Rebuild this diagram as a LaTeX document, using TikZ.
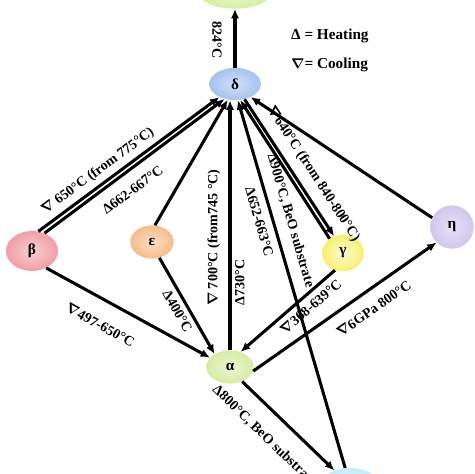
\documentclass[tikz,border=0pt]{standalone}
\usepackage{amsmath}
\usepackage{fontspec}
\setmainfont{Liberation Serif}
\usetikzlibrary{arrows.meta}
\usetikzlibrary{shapes.geometric}

\definecolor{topgreen}{RGB}{214,240,160}
\definecolor{deltablue}{RGB}{166,194,240}
\definecolor{betapink}{RGB}{240,158,164}
\definecolor{epsorange}{RGB}{246,188,138}
\definecolor{gammayellow}{RGB}{246,240,110}
\definecolor{etapurple}{RGB}{208,198,236}
\definecolor{alphagreen}{RGB}{214,236,164}
\definecolor{kappablue}{RGB}{196,236,250}

\newcommand{\cool}{$\boldsymbol{\nabla}$}
\newcommand{\heat}{Δ}

\begin{document}
\begin{tikzpicture}[x=0.03cm,y=-0.03cm,>={Latex[length=8pt,width=7pt]},
        phase/.style={ellipse,inner sep=0pt,inner color=#1!50!white,outer color=#1,
            font=\bfseries\fontsize{13}{14}\selectfont},
        conn/.style={line width=2.6pt,->},
        lbl/.style={font=\bfseries\fontsize{12}{13}\selectfont,sloped,inner sep=1pt}]
        \useasboundingbox (0,0) rectangle (474,474);
        \clip (0,0) rectangle (474,474);

        % phases
        \node[phase=topgreen,minimum width=2.2cm,minimum height=1cm] (T) at (235,-8) {};
        \node[phase=deltablue,minimum width=1.55cm,minimum height=0.97cm] (D) at (235,84) {δ};
        \node[phase=betapink,minimum width=1.56cm,minimum height=1.2cm] (B) at (32,251) {β};
        \node[phase=epsorange,minimum width=1.3cm,minimum height=1cm] (E) at (152,242) {ε};
        \node[phase=gammayellow,inner color=gammayellow!30!white,minimum width=1.25cm,minimum height=1.1cm] (G) at (343,253) {γ};
        \node[phase=etapurple,minimum width=1.3cm,minimum height=1.3cm] (H) at (452,227) {η};
        \node[phase=alphagreen,minimum width=1.42cm,minimum height=1cm] (A) at (230,367) {α};
        \node[phase=kappablue,minimum width=1.8cm,minimum height=1.08cm] (K) at (350,486) {};

        % legend
        \node[anchor=west,font=\bfseries\fontsize{13}{15}\selectfont] (heat) at (287,36) {\heat{} = Heating};
        \node[anchor=west,font=\bfseries\fontsize{13}{15}\selectfont] (cool) at (287,65) {\cool{}= Cooling};

        % transitions
        \draw[conn] (D.north) -- (D.north |- T.south);
        \node[rotate=-90,font=\bfseries\fontsize{12}{13}\selectfont] (t824) at (217,40) {824°C};

        \draw[conn] (B.72) -- node[lbl,pos=0.37,above=3pt] {\cool{} 650°C (from 775°C)} (D.220);
        \draw[conn] (B.55) -- node[lbl,pos=0.43,below=9pt] {\heat662-667°C} (D.235);
        \draw[conn] (E.80) -- (D.245);
        \draw[conn] (E.-65) -- node[lbl,pos=0.5,below=3pt] {\heat400°C} (A.140);
        \draw[conn] (B.-50) -- node[lbl,pos=0.4,below=14pt] {\cool497-650°C} (A.155);
        \draw[conn] (A.north) -- node[lbl,pos=0.45,above=6pt] {\cool{} 700°C (from745 °C)}
            node[lbl,pos=0.27,below=2pt] {\heat730°C} (A.north |- D.south);
        \draw[conn] (K.105) -- node[lbl,pos=0.68,below=5pt] {\heat652-663°C}
            node[lbl,pos=0.66,above=7pt] {\heat900°C, BeO substrate} (D.280);
        \draw[conn] (G.133) -- (D.288);
        \draw[conn] (D.302) -- node[lbl,pos=0.61,above=6.5pt] {\cool640°C (from 840-800°C)} (G.118);
        \draw[conn] (H.155) -- (D.320);
        \draw[conn] (G.245) -- node[lbl,pos=0.34,below=3.5pt] {\cool368-639°C} (A.55);
        \draw[conn] (A.-10) -- node[lbl,pos=0.6,below=9pt] {\cool6GPa 800°C} (H.225);
        \draw[conn] (A.-50) -- node[lbl,pos=0.42,below=13pt] {\heat800°C, BeO substrate} (K.135);
\end{tikzpicture}
\end{document}
